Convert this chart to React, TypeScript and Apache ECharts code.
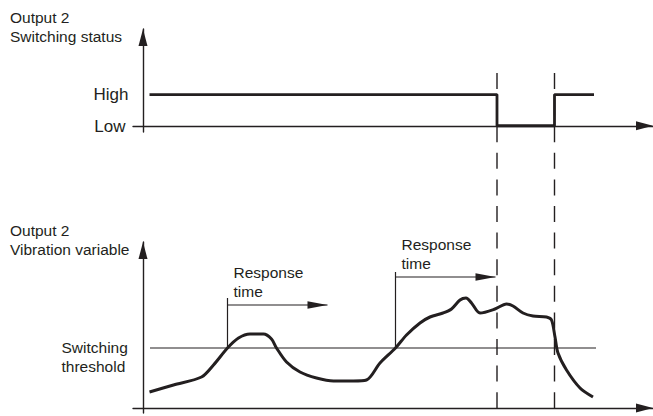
import React, { useEffect, useRef } from 'react';
import * as echarts from 'echarts';

// ---- data (time units along the shared horizontal axis) ----
const statusTimes = [1.3, 70.8, 70.8, 82.3, 82.3, 90.2];
const statusLevels = [1, 1, 0, 0, 1, 1]; // 1 = High, 0 = Low
const statusLabels = ['Low', 'High'];

const vibTimes = [1.3, 6.1, 11.7, 14.1, 16.9, 19.1, 21.4, 24.1, 25.7, 26.7, 28.7, 31.4, 34.7, 38.1, 42.1, 44.7, 47.4, 50.5, 52.7, 55.4, 57.4, 60.0, 61.7, 63.4, 64.6, 65.7, 67.4, 70.4, 72.7, 74.0, 76.0, 78.0, 80.7, 81.7, 82.4, 83.0, 84.7, 87.4, 90.0];
const vibValues = [1.6, 2.3, 3.1, 4.3, 6.0, 7.0, 7.4, 7.4, 6.9, 6.0, 4.6, 3.6, 3.0, 2.7, 2.7, 2.8, 4.5, 6.0, 7.3, 8.5, 9.1, 9.5, 9.9, 10.8, 11.0, 10.5, 9.5, 9.9, 10.4, 10.2, 9.5, 9.2, 9.1, 8.8, 7.1, 5.5, 3.8, 2.0, 1.1];

const thresholdValue = 6;
const thresholdSpan = [1.4, 90.6];

const switchTimes = [70.8, 82.3];
const responseStarts = [16.9, 50.5];
const responseTime = 20;
const responseArrowLevels = [10.3, 13.1];
const responseBracketTops = [11.0, 13.6];

const FONT_FAMILY = '"Liberation Sans", Arial, Helvetica, sans-serif';
const INK = '#231f20';

export default function App() {
  const ref = useRef<HTMLDivElement>(null);

  useEffect(() => {
    const chart = echarts.init(ref.current!, null, { renderer: 'svg' });

    const arrowLine = {
      show: true,
      onZero: true,
      symbol: ['none', 'triangle'],
      symbolSize: [9, 17],
      symbolOffset: [0, -8.5],
      lineStyle: { color: INK, width: 1.4 },
    };
    const bareAxis = {
      axisTick: { show: false },
      axisLabel: { show: false },
      splitLine: { show: false },
    };

    const thinLine = { color: INK, width: 1.2 };

    const series: any[] = [
      {
        type: 'line',
        xAxisIndex: 0,
        yAxisIndex: 0,
        data: statusTimes.map((t, i) => [t, statusLevels[i]]),
        symbol: 'none',
        lineStyle: { color: INK, width: 2.8 },
        silent: true,
      },
      {
        type: 'line',
        xAxisIndex: 1,
        yAxisIndex: 1,
        data: thresholdSpan.map((t) => [t, thresholdValue]),
        symbol: 'none',
        lineStyle: { color: INK, width: 1.2 },
        silent: true,
      },
      {
        type: 'line',
        xAxisIndex: 1,
        yAxisIndex: 1,
        data: vibTimes.map((t, i) => [t, vibValues[i]]),
        symbol: 'none',
        smooth: 0.3,
        lineStyle: { color: INK, width: 3 },
        silent: true,
        z: 3,
      },
    ];

    responseStarts.forEach((t, i) => {
      series.push({
        type: 'line',
        xAxisIndex: 1,
        yAxisIndex: 1,
        data: [
          [t, thresholdValue],
          [t, responseBracketTops[i]],
        ],
        symbol: 'none',
        lineStyle: thinLine,
        silent: true,
      });
      series.push({
        type: 'line',
        xAxisIndex: 1,
        yAxisIndex: 1,
        data: [
          { value: [t, responseArrowLevels[i]], symbol: 'none' },
          {
            value: [t + responseTime, responseArrowLevels[i]],
            symbol: 'triangle',
            symbolSize: [7.5, 20],
            symbolRotate: -90,
            symbolOffset: [-10, 0],
          },
        ],
        symbol: 'triangle',
        showSymbol: true,
        itemStyle: { color: INK },
        lineStyle: thinLine,
        silent: true,
      });
    });

    chart.setOption({
      animation: false,
      grid: [
        { left: 133, right: 0, top: 29, bottom: 284, containLabel: false, outerBoundsMode: 'none' },
        { left: 133, right: 0, top: 242, bottom: 3, containLabel: false, outerBoundsMode: 'none' },
      ],
      xAxis: [0, 1].map((g) => ({
        type: 'value',
        gridIndex: g,
        min: -2,
        max: 102,
        axisLine: arrowLine,
        ...bareAxis,
      })),
      yAxis: [
        { type: 'value', gridIndex: 0, min: -0.2, max: 3.1, axisLine: arrowLine, ...bareAxis },
        { type: 'value', gridIndex: 1, min: -0.5, max: 16.6, axisLine: arrowLine, ...bareAxis },
      ],
      series,
    });

    const toPx = (grid: number, t: number, v: number) =>
      chart.convertToPixel({ gridIndex: grid }, [t, v]) as number[];

    const text = (s: string, x: number, y: number, size: number, align = 'left') => ({
      type: 'text',
      silent: true,
      style: {
        text: s,
        x,
        y,
        fill: INK,
        font: `${size}px ${FONT_FAMILY}`,
        textAlign: align,
        textVerticalAlign: 'middle',
        align,
        verticalAlign: 'middle',
      },
    });

    const graphics: any[] = [];
    // titles
    graphics.push(text('Output 2', 10, 17, 15.5));
    graphics.push(text('Switching status', 10, 36, 15.5));
    graphics.push(text('Output 2', 10, 230, 15.5));
    graphics.push(text('Vibration variable', 10, 249, 15.5));

    // level labels
    const highPx = toPx(0, 0, 1);
    const lowPx = toPx(0, 0, 0);
    graphics.push(text(statusLabels[1], highPx[0] - 14.5, highPx[1], 17, 'right'));
    graphics.push(text(statusLabels[0], lowPx[0] - 17.5, lowPx[1] + 0.5, 17, 'right'));

    // threshold label
    const thrPx = toPx(1, 0, thresholdValue);
    graphics.push(text('Switching', 61.5, thrPx[1] - 1, 15.5));
    graphics.push(text('threshold', 61.5, thrPx[1] + 18, 15.5));

    // response time labels
    responseStarts.forEach((t, i) => {
      const p = toPx(1, t, responseArrowLevels[i]);
      graphics.push(text('Response', p[0] + 6, p[1] - 33, 15.5));
      graphics.push(text('time', p[0] + 6, p[1] - 14, 15.5));
    });

    // dashed switching instants across both panels
    switchTimes.forEach((t) => {
      const x = toPx(1, t, 0)[0];
      graphics.push({
        type: 'line',
        silent: true,
        shape: { x1: x, y1: 73, x2: x, y2: 409 },
        style: { stroke: INK, lineWidth: 1.4, lineDash: [16, 10.6] },
        z: 1,
      });
    });

    chart.setOption({ graphic: graphics });

    return () => chart.dispose();
  }, []);

  return (
    <div
      ref={ref}
      style={{ position: 'absolute', left: 0, top: 0, width: 653, height: 416, background: '#fff' }}
    />
  );
}
